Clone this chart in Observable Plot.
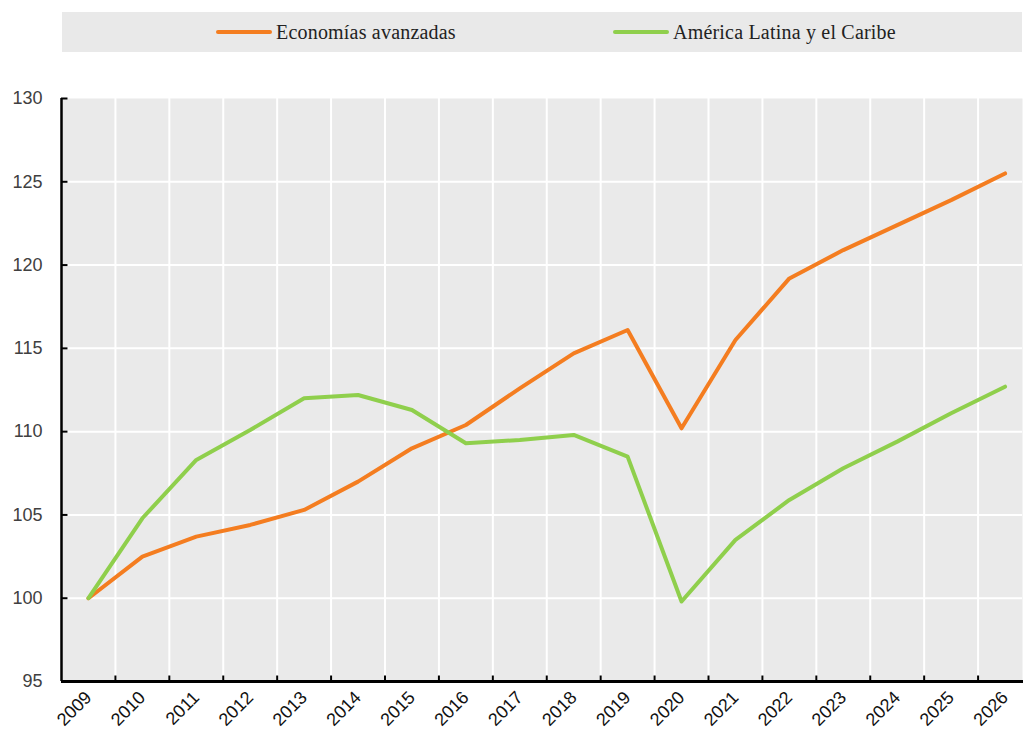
<!DOCTYPE html>
<html>
<head>
<meta charset="utf-8">
<script src="https://cdn.jsdelivr.net/npm/d3@7"></script>
<script src="https://cdn.jsdelivr.net/npm/@observablehq/plot@0.6"></script>
<style>
  body { margin: 0; background: #fff; width: 1023px; height: 730px; position: relative; overflow: hidden; }
  #legend { position: absolute; left: 62px; top: 12px; width: 960px; height: 40px; background: #e9e9e9; }
  .item { position: absolute; top: 0; height: 40px; display: flex; align-items: center; font-family: "Liberation Serif", serif; font-size: 20px; color: #222; letter-spacing: 0.2px; }
  .sw { width: 56px; height: 4px; border-radius: 2px; margin-right: 4px; }
  #chart { position: absolute; left: 0; top: 60px; width: 1023px; overflow: hidden; }
</style>
</head>
<body>
<div id="legend"></div>
<div id="chart"></div>
<script>
const years = [2009, 2010, 2011, 2012, 2013, 2014, 2015, 2016, 2017, 2018, 2019, 2020, 2021, 2022, 2023, 2024, 2025, 2026];
const avanzadas = [100, 102.5, 103.7, 104.4, 105.3, 107.0, 109.0, 110.4, 112.6, 114.7, 116.1, 110.2, 115.5, 119.2, 120.9, 122.4, 123.9, 125.5];
const latam = [100, 104.8, 108.3, 110.1, 112.0, 112.2, 111.3, 109.3, 109.5, 109.8, 108.5, 99.8, 103.5, 105.9, 107.8, 109.4, 111.1, 112.7];
const series = ["Economías avanzadas", "América Latina y el Caribe"];
const colors = ["#f47d20", "#8fcf4c"];
const yTicks = [95, 100, 105, 110, 115, 120, 125, 130];

const boundaries = years.slice(0, -1).map(y => y + 0.5);
const data = [
  ...years.map((year, i) => ({year, value: avanzadas[i], serie: series[0]})),
  ...years.map((year, i) => ({year, value: latam[i], serie: series[1]}))
];

const legend = document.getElementById("legend");
const lefts = [154, 551];
series.forEach((s, i) => {
  const it = document.createElement("div");
  it.className = "item";
  it.style.left = lefts[i] + "px";
  it.innerHTML = `<div class="sw" style="background:${colors[i]}"></div><span>${s}</span>`;
  legend.appendChild(it);
});

const chart = Plot.plot({
  width: 1023,
  height: 670,
  marginTop: 38,
  marginBottom: 49,
  marginLeft: 61,
  marginRight: 1,
  x: {domain: [2008.5, 2026.5], range: [61, 1031.5]},
  y: {domain: [95, 130]},
  color: {domain: series, range: colors},
  style: {fontFamily: "Liberation Sans, Arial, sans-serif", fontSize: "18px", overflow: "hidden"},
  marks: [
    Plot.frame({fill: "#eaeaea", stroke: null}),
    Plot.gridY(yTicks.filter(d => d > 95 && d < 130), {stroke: "white", strokeOpacity: 1, strokeWidth: 2}),
    Plot.gridX(boundaries, {stroke: "white", strokeOpacity: 1, strokeWidth: 2}),
    Plot.lineY(data, {x: "year", y: "value", stroke: "serie", z: "serie", strokeWidth: 4, strokeLinecap: "round", strokeLinejoin: "round"}),
    Plot.ruleY(yTicks, {x1: 2008.5, x2: 2008.5 + 0.12, stroke: "black", strokeWidth: 2}),
    Plot.ruleX(boundaries, {y1: 95, y2: 95 + 0.33, stroke: "black", strokeWidth: 2}),
    Plot.ruleX([2008.5], {y1: 95, y2: 130, stroke: "black", strokeWidth: 2.5}),
    Plot.ruleY([95], {x1: 2008.5, x2: 2026.5, stroke: "black", strokeWidth: 3}),
    Plot.axisY(yTicks, {tickSize: 0, tickPadding: 19, fill: "#404040", label: null}),
    Plot.axisX(years, {tickSize: 0, tickPadding: 13, tickRotate: -45, fill: "#111", tickFormat: d => String(d), label: null})
  ]
});
document.getElementById("chart").appendChild(chart);
</script>
</body>
</html>
